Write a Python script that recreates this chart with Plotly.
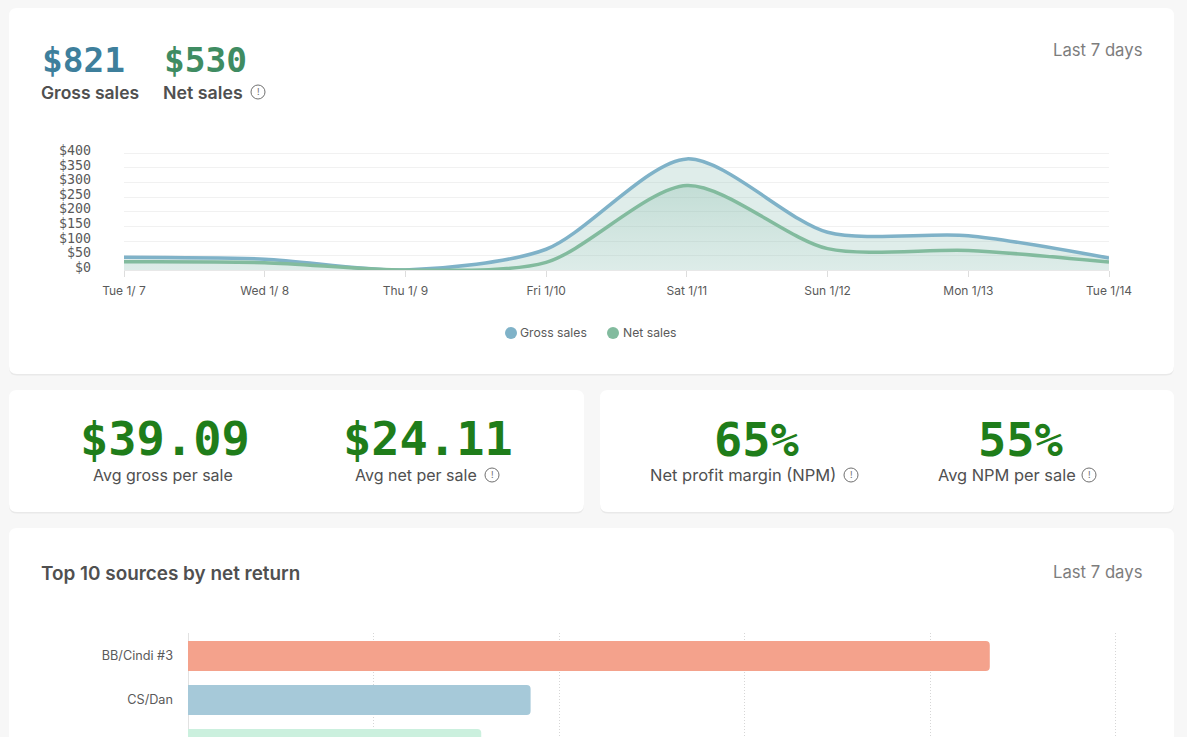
import plotly.graph_objects as go

W, H = 1187, 737

days = ["Tue 1/ 7", "Wed 1/ 8", "Thu 1/ 9", "Fri 1/10", "Sat 1/11", "Sun 1/12", "Mon 1/13", "Tue 1/14"]
gross_sales = [45, 38, 1, 72, 381, 130, 118, 42]
net_sales = [29, 26, 1, 27, 290, 74, 68, 28]
y_ticks = [0, 50, 100, 150, 200, 250, 300, 350, 400]
series_names = ["Gross sales", "Net sales"]

sources = ["BB/Cindi #3", "CS/Dan", " "]
source_returns = [216, 92.3, 79]
source_colors = ["#f4a28c", "#a6c9d9", "#cbf0de"]

SANS = "Inter, 'Open Sans', sans-serif"
MONO = "'DejaVu Sans Mono', monospace"
BLUE, GREEN = "#7fb2c8", "#82bb9e"


def fx(px):
    return px / W


def fy(px):
    return 1 - px / H


def card(x0, y0, x1, y1, r=8):
    def path(dy, rr):
        a, b, c, d = fx(x0), fy(y0 + dy), fx(x1), fy(y1 + dy)
        ex, ey = rr / W, rr / H
        return (f"M{a+ex},{b} L{c-ex},{b} Q{c},{b} {c},{b-ey} L{c},{d+ey} Q{c},{d} {c-ex},{d} "
                f"L{a+ex},{d} Q{a},{d} {a},{d+ey} L{a},{b-ey} Q{a},{b} {a+ex},{b} Z")
    return [
        dict(type="path", xref="paper", yref="paper", path=path(1.5, r), layer="below",
             fillcolor="#e9e9e9", line_width=0),
        dict(type="path", xref="paper", yref="paper", path=path(0, r), layer="below",
             fillcolor="#ffffff", line_width=0),
    ]


def icon(cx, cy, r=7):
    return dict(type="circle", xref="paper", yref="paper", x0=fx(cx - r), x1=fx(cx + r),
                y0=fy(cy + r), y1=fy(cy - r), line=dict(color="#707070", width=1), fillcolor="rgba(0,0,0,0)")


def dot(cx, cy, color, r=6):
    return dict(type="circle", xref="paper", yref="paper", x0=fx(cx - r), x1=fx(cx + r),
                y0=fy(cy + r), y1=fy(cy - r), line_width=0, fillcolor=color)


def text(t, x, y, size, color, anchor="left", family=SANS, weight=400):
    return dict(text=t, x=fx(x), y=fy(y), xref="paper", yref="paper", xanchor=anchor, yanchor="middle",
                showarrow=False, font=dict(family=family, size=size, color=color, weight=weight),
                borderpad=0, borderwidth=0)


fig = go.Figure()

fig.add_trace(go.Scatter(
    x=days, y=gross_sales, name=series_names[0], mode="lines", showlegend=False, cliponaxis=False, hoverinfo="skip",
    line=dict(color=BLUE, width=3.5, shape="spline", smoothing=0.8),
    fill="tozeroy", fillcolor="rgba(140,190,180,0.28)"))
fig.add_trace(go.Scatter(
    x=days, y=net_sales, name=series_names[1], mode="lines", showlegend=False, cliponaxis=False, hoverinfo="skip",
    line=dict(color=GREEN, width=3.5, shape="spline", smoothing=0.8),
    fill="tozeroy",
    fillgradient=dict(type="vertical", colorscale=[[0, "rgba(130,185,165,0.02)"], [1, "rgba(120,180,160,0.28)"]])))

fig.add_trace(go.Bar(
    x=source_returns, y=sources, orientation="h", width=0.68, showlegend=False, xaxis="x2", yaxis="y2",
    marker=dict(color=source_colors, cornerradius=4, line=dict(width=0)), hoverinfo="skip"))

shapes = (card(9, 8, 1174, 374) + card(9, 390, 584, 512) + card(600, 390, 1174, 512) + card(9, 528, 1174, 760)
          + [icon(258, 92), icon(492, 475), icon(851, 475), icon(1089, 475)]
          + [dot(511, 333, BLUE), dot(613, 333, GREEN)])

annotations = [
    text("$821", 42, 59.5, 34.5, "#3e7f9c", family=MONO, weight=700),
    text("$530", 164, 59.5, 34.5, "#3f8c62", family=MONO, weight=700),
    text("Gross sales", 41, 92.5, 17.5, "#505050", weight=600),
    text("Net sales", 163, 92.5, 17.8, "#505050", weight=600),
    text("Last 7 days", 1142, 50.5, 16.7, "#7d7d7d", anchor="right"),
    text("$39.09", 165, 439, 47, "#1f7d1a", anchor="center", family=MONO, weight=700),
    text("$24.11", 428, 439, 47, "#1f7d1a", anchor="center", family=MONO, weight=700),
    text("65%", 756, 440, 47, "#1f7d1a", anchor="center", family=MONO, weight=700),
    text("55%", 1020, 440, 47, "#1f7d1a", anchor="center", family=MONO, weight=700),
    text("Avg gross per sale", 162.5, 475, 16, "#505050", anchor="center"),
    text("Avg net per sale", 416, 475, 16, "#505050", anchor="center"),
    text("Net profit margin (NPM)", 743, 475, 16.5, "#505050", anchor="center"),
    text("Avg NPM per sale", 1006.5, 475, 16.4, "#505050", anchor="center"),
    text("Top 10 sources by net return", 41, 573, 18.9, "#505050", weight=600),
    text("Last 7 days", 1142, 571.5, 16.7, "#7d7d7d", anchor="right"),
    text(series_names[0], 520, 332.5, 12.2, "#5a5a5a"),
    text(series_names[1], 623, 332.5, 12.2, "#5a5a5a"),
]
for cx, cy in [(258, 92), (492, 475), (851, 475), (1089, 475)]:
    annotations.append(text("!", cx, cy, 9, "#707070", anchor="center"))

fig.update_layout(
    width=W, height=H, margin=dict(l=0, r=0, t=0, b=0, autoexpand=False), autosize=False,
    paper_bgcolor="#f7f7f7", plot_bgcolor="rgba(0,0,0,0)", showlegend=False,
    shapes=shapes, annotations=annotations, hovermode=False,
    xaxis=dict(domain=[fx(124), fx(1109)], type="category", categoryorder="array", categoryarray=days,
               range=[0, 7], showgrid=False, zeroline=False, showline=True, linecolor="#e8e8e8",
               ticks="outside", ticklen=6, tickcolor="#dddddd", tickfont=dict(family=SANS, size=12, color="#5a5a5a"),
               ticklabelstandoff=3),
    yaxis=dict(domain=[fy(270.3), fy(150.4)], range=[0, 410], tickvals=y_ticks,
               ticktext=[f"${v}" for v in y_ticks], showgrid=True, gridcolor="#f1f1f1", gridwidth=1,
               zeroline=False, showline=False, tickfont=dict(family=MONO, size=13.3, color="#5a5a5a"),
               ticklabelstandoff=32, ticklabelshift=-3),
    xaxis2=dict(domain=[fx(188), fx(1119.7)], range=[0, 251], dtick=50, anchor="y2", showgrid=True,
                griddash="1px,2px", gridcolor="#d6d6d6", gridwidth=1, zeroline=True, zerolinecolor="#e2e2e2",
                zerolinewidth=1, showticklabels=False, ticks=""),
    yaxis2=dict(domain=[0, fy(633)], anchor="x2", type="category", categoryorder="array", categoryarray=sources,
                range=[1.841, -0.523], showgrid=False, zeroline=False, showline=False, ticks="",
                tickfont=dict(family=SANS, size=12.7, color="#5a5a5a"), ticklabelstandoff=14),
)

fig.write_html("out.html", config=dict(displayModeBar=False),
               post_script="document.body.style.margin='0';document.body.style.overflow='hidden';")
